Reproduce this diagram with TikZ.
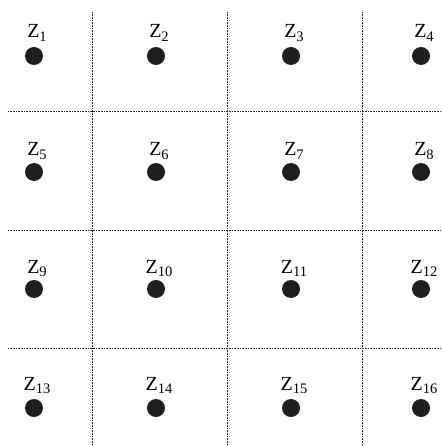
\documentclass[tikz,border=0pt]{standalone}
\usepackage{fontspec}
\setmainfont{Liberation Serif}
\newcommand{\zlab}[1]{Z\raisebox{-3.5pt}{\fontsize{14.5}{14.5}\selectfont #1}}
\begin{document}
\begin{tikzpicture}[x=1pt,y=-1pt,
  gridline/.style={draw=black!85,line width=1pt,dash pattern=on 1pt off 0.6pt},
  dot/.style={circle,fill=black!88,minimum size=18pt,inner sep=0pt},
  lab/.style={anchor=base,inner sep=0pt,font=\fontsize{20}{20}\selectfont}]
\useasboundingbox (0,0) rectangle (441,446);
% grid
\coordinate (v1t) at (92,12);  \coordinate (v1b) at (92,446);
\coordinate (v2t) at (227,12); \coordinate (v2b) at (227,446);
\coordinate (v3t) at (362,12); \coordinate (v3b) at (362,446);
\coordinate (h1l) at (8,112);  \coordinate (h1r) at (441,112);
\coordinate (h2l) at (8,230);  \coordinate (h2r) at (441,230);
\coordinate (h3l) at (8,348);  \coordinate (h3r) at (441,348);
\draw[gridline] (v1t) -- (v1b);
\draw[gridline] (v2t) -- (v2b);
\draw[gridline] (v3t) -- (v3b);
\draw[gridline] (h1l) -- (h1r);
\draw[gridline] (h2l) -- (h2r);
\draw[gridline] (h3l) -- (h3r);
% dots and labels
\foreach \r/\y/\b in {0/56/38, 1/172/156, 2/289/273, 3/408/390}{
  \foreach \c/\x in {1/34, 2/156, 3/291, 4/421}{
    \pgfmathtruncatemacro{\n}{4*\r+\c}
    \node[dot] (d\n) at (\x,\y) {};
    \node[lab] (l\n) at (\x+3,\b) {\zlab{\n}};
  }
}
\end{tikzpicture}
\end{document}
